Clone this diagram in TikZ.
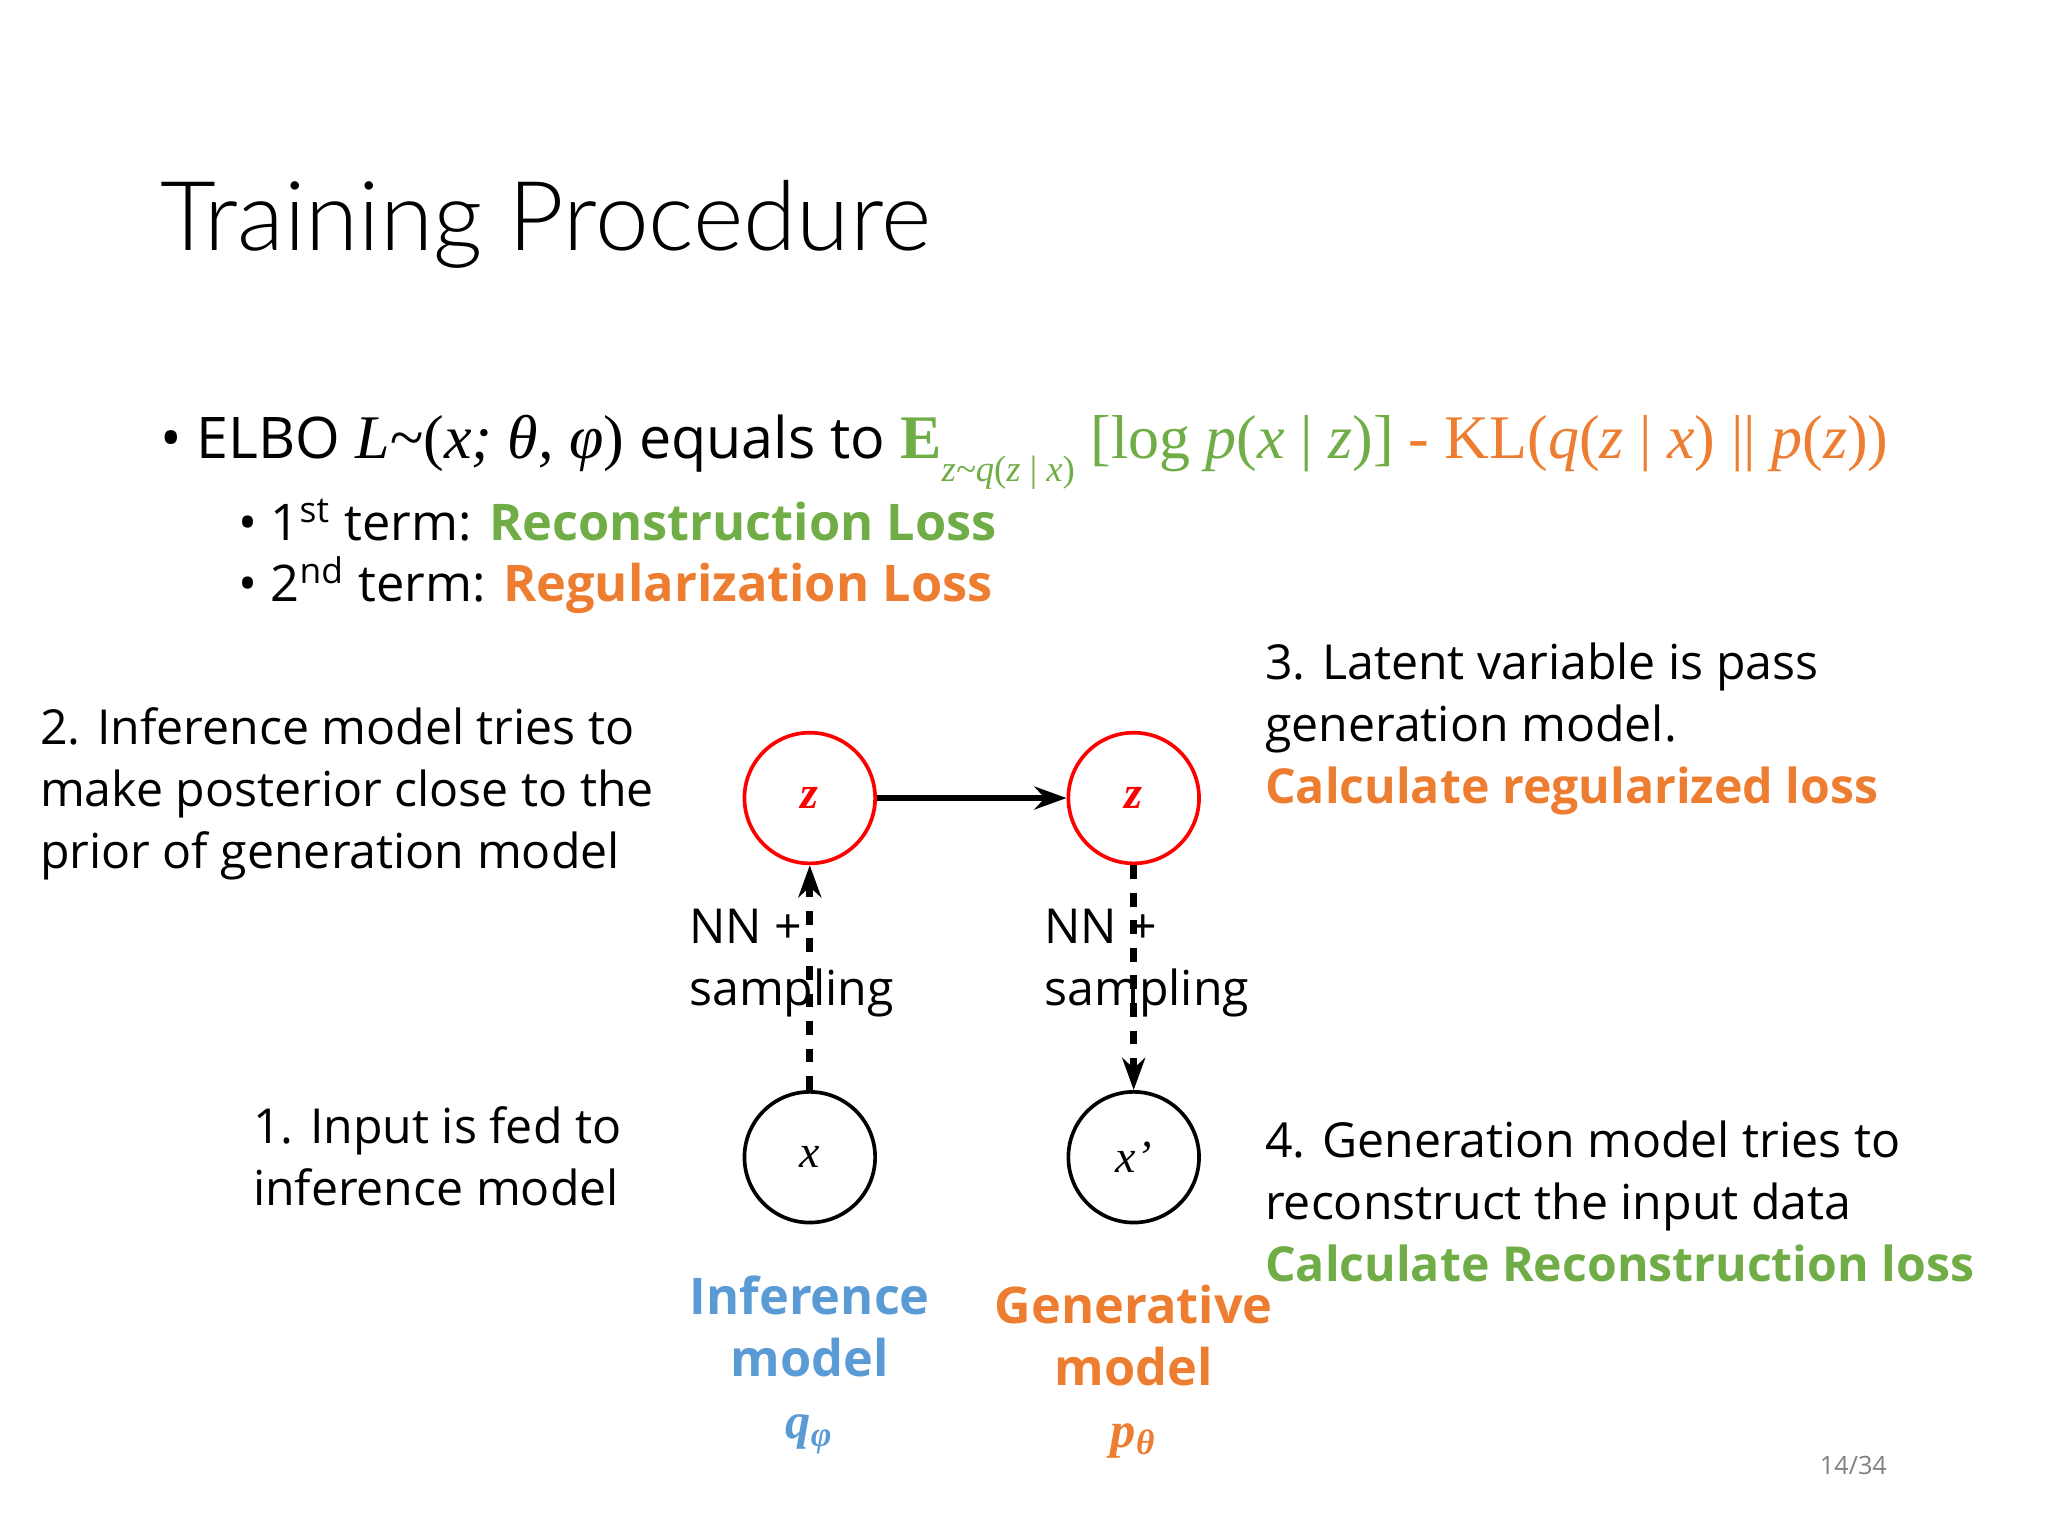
\documentclass[tikz,border=0pt]{standalone}
\usepackage{fontspec}
\setmainfont{Open Sans}
\newfontfamily\tnr{Liberation Serif}
\newfontfamily\ttl{Lato Light}
\usetikzlibrary{arrows.meta}
\definecolor{og}{RGB}{237,125,49}
\definecolor{gr}{RGB}{112,173,71}
\definecolor{bl}{RGB}{91,155,213}
\tikzset{x=0.01cm,y=-0.01cm,
 txt/.style={anchor=west,align=left,font=\fontsize{10.5}{13.5}\selectfont,inner sep=0},
 circ/.style={circle,draw,line width=0.8pt,minimum size=1cm,inner sep=0,font=\tnr\itshape\fontsize{10}{12}\selectfont},
 conn/.style={line width=1.5pt,-{Stealth[length=7pt,width=5pt]}}}
\begin{document}
\begin{tikzpicture}
\useasboundingbox (0,0) rectangle (1568,1176);
\node[anchor=west,inner sep=0,font=\ttl\fontsize{21}{25}\selectfont] (title) at (122,172) {Training Procedure};
\node[txt,font=\fontsize{12.5}{15}\selectfont] (elbo) at (122,346) {\textbullet\ ELBO {\tnr\fontsize{13.5}{15}\selectfont\itshape L\textasciitilde}{\tnr\fontsize{13.5}{15}\selectfont(\textit{x; θ, φ})} equals to {\tnr\fontsize{13.5}{15}\selectfont\color{gr}\textbf{E}\raisebox{-0.8ex}{\fontsize{8}{9}\selectfont\textit{z\textasciitilde q}(\textit{z} | \textit{x})} [log \textit{p}(\textit{x} | \textit{z})]} {\tnr\fontsize{13.5}{15}\selectfont\color{og}- KL(\textit{q}(\textit{z} | \textit{x}) || \textit{p}(\textit{z}))}};
\node[txt,font=\fontsize{11}{13}\selectfont] (t1) at (182,398) {\textbullet\ 1\textsuperscript{st} term: \textcolor{gr}{\bfseries Reconstruction Loss}};
\node[txt,font=\fontsize{11}{13}\selectfont] (t2) at (182,448) {\textbullet\ 2\textsuperscript{nd} term: \textcolor{og}{\bfseries Regularization Loss}};
\node[circ,draw=red,text=red] (z1) at (620,611) {\textbf{z}};
\node[circ,draw=red,text=red] (z2) at (868,611) {\textbf{z}};
\node[circ] (x) at (620,886) {x};
\node[circ] (xp) at (868,886) {x’};
\draw[conn] (z1) -- (z2);
\draw[conn,dashed] (x) -- (z1);
\draw[conn,dashed] (z2) -- (xp);
\node[txt] (nn1) at (527,737) {NN +\\sampling};
\node[txt] (nn2) at (799,737) {NN +\\sampling};
\node[txt] (s2) at (30,608) {2. Inference model tries to\\make posterior close to the\\prior of generation model};
\node[txt] (s1) at (193,885) {1. Input is fed to\\inference model};
\node[txt] (s3) at (968,558) {3. Latent variable is pass\\generation model.\\\textcolor{og}{\bfseries Calculate regularized loss}};
\node[txt] (s4) at (968,920) {4. Generation model tries to\\reconstruct the input data\\\textcolor{gr}{\bfseries Calculate Reconstruction loss}};
\node[align=center,inner sep=0,font=\bfseries\fontsize{11}{13.5}\selectfont,text=bl] (inf) at (620,1045) {Inference\\model\\{\tnr\itshape q\textsubscript{φ}}};
\node[align=center,inner sep=0,font=\bfseries\fontsize{11}{13.5}\selectfont,text=og] (gen) at (868,1050) {Generative\\model\\{\tnr\itshape p\textsubscript{θ}}};
\node[inner sep=0,font=\fontsize{5.5}{7}\selectfont,text=gray] (pg) at (1419,1122) {14/34};
\end{tikzpicture}
\end{document}
